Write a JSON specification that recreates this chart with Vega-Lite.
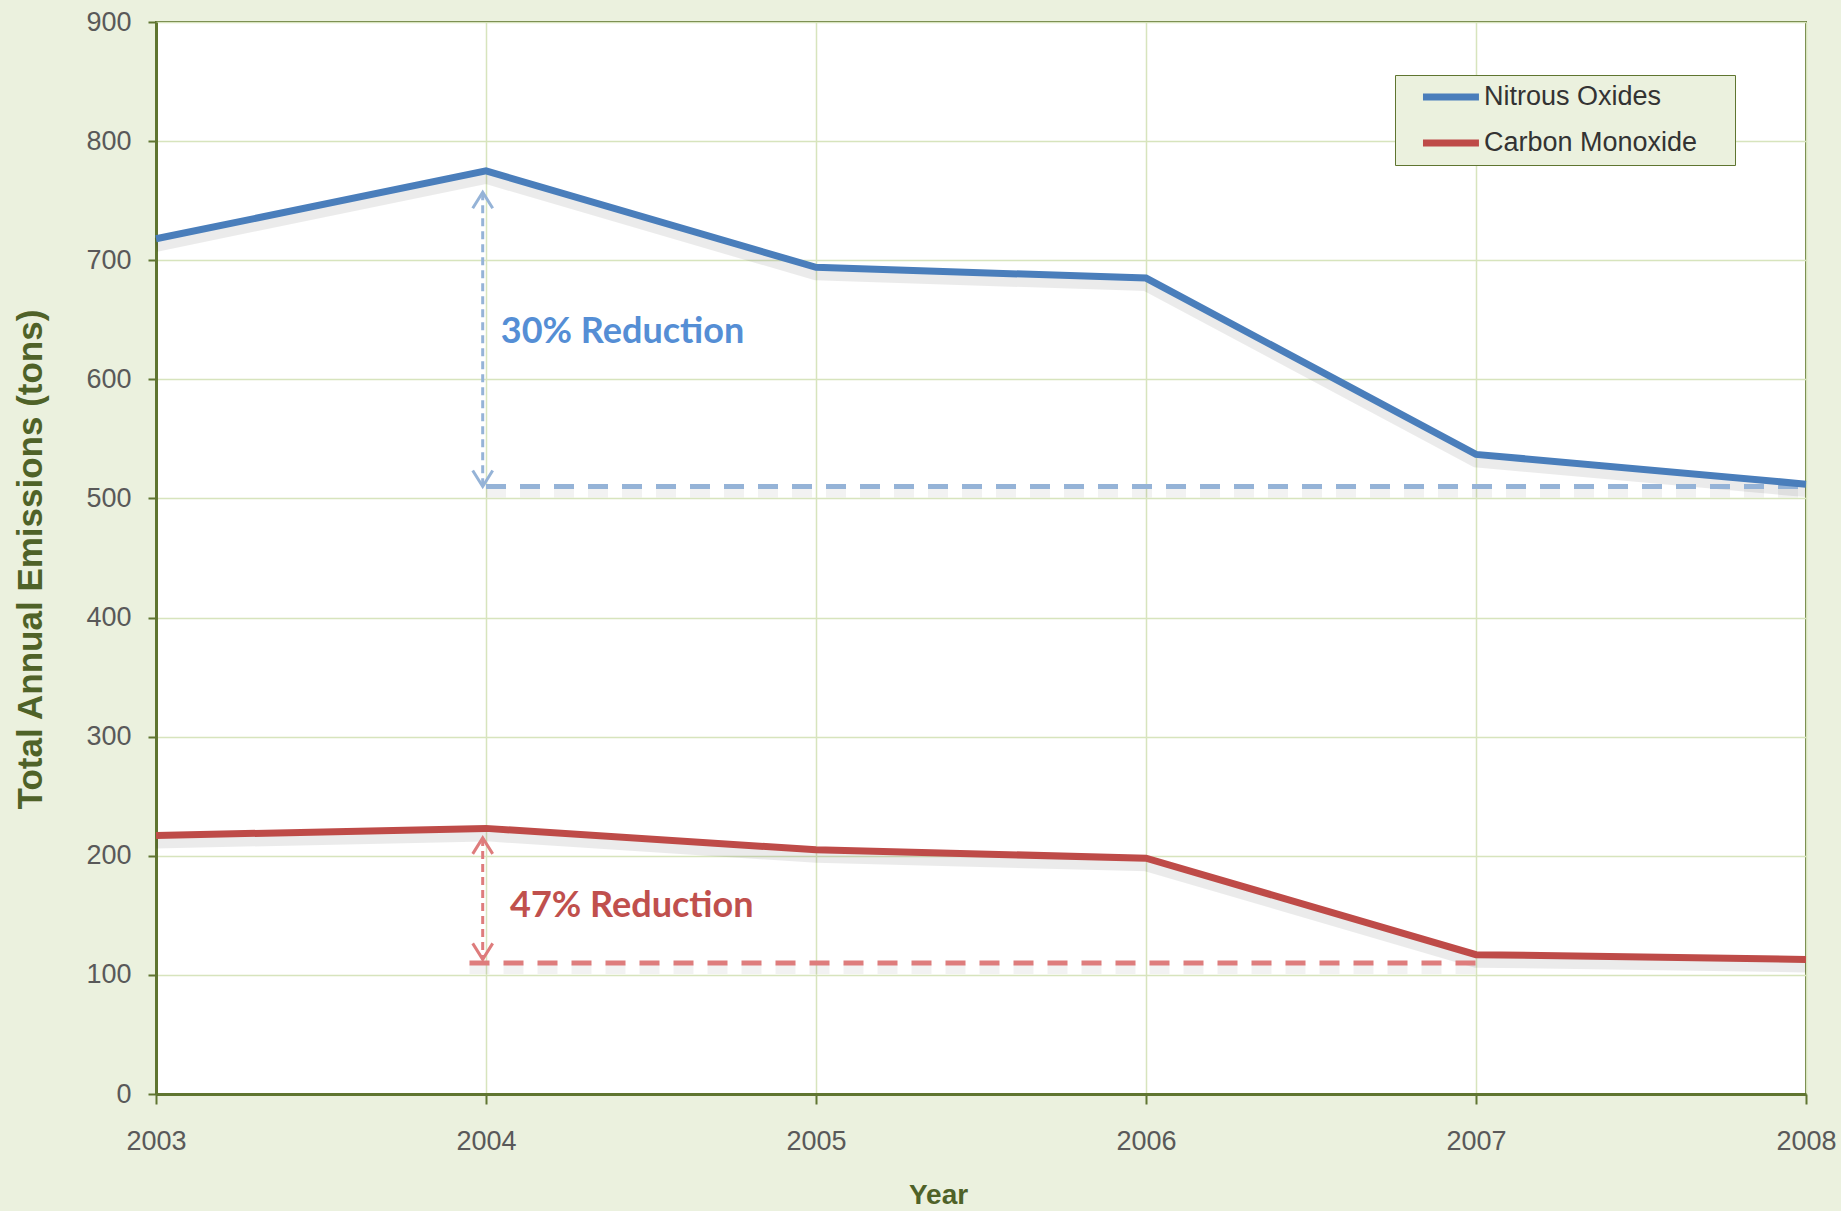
{
  "$schema": "https://vega.github.io/schema/vega-lite/v6.json",
  "autosize": {"type": "none"},
  "width": 1650,
  "height": 1072,
  "padding": {"left": 156, "top": 22, "right": 35, "bottom": 117},
  "background": "#EBF1DE",
  "config": {
    "view": {"stroke": "#5F7530", "strokeWidth": 2, "fill": "#FFFFFF"},
    "axis": {
      "labelFont": "Liberation Sans",
      "labelFontSize": 27,
      "labelColor": "#595959",
      "labelFlush": false,
      "titleFont": "Liberation Sans",
      "titleFontWeight": "bold",
      "titleColor": "#4F6228",
      "domainColor": "#5F7530",
      "domainWidth": 3,
      "tickColor": "#5F7530",
      "tickWidth": 2,
      "gridColor": "#D7E4BD",
      "gridWidth": 1.5
    }
  },
  "datasets": {
    "series": [
      {"Year": 2003, "Series": "Nitrous Oxides", "Emissions": 718},
      {"Year": 2004, "Series": "Nitrous Oxides", "Emissions": 775},
      {"Year": 2005, "Series": "Nitrous Oxides", "Emissions": 694},
      {"Year": 2006, "Series": "Nitrous Oxides", "Emissions": 685},
      {"Year": 2007, "Series": "Nitrous Oxides", "Emissions": 537},
      {"Year": 2008, "Series": "Nitrous Oxides", "Emissions": 512},
      {"Year": 2003, "Series": "Carbon Monoxide", "Emissions": 217},
      {"Year": 2004, "Series": "Carbon Monoxide", "Emissions": 223},
      {"Year": 2005, "Series": "Carbon Monoxide", "Emissions": 205},
      {"Year": 2006, "Series": "Carbon Monoxide", "Emissions": 198},
      {"Year": 2007, "Series": "Carbon Monoxide", "Emissions": 117},
      {"Year": 2008, "Series": "Carbon Monoxide", "Emissions": 113}
    ],
    "refs": [
      {"Key": "NOx", "x1": 2004, "x2": 2008, "y": 510},
      {"Key": "CO", "x1": 2003.95, "x2": 2007, "y": 110}
    ],
    "shafts": [
      {"Key": "NOx", "x": 2003.99, "y1": 757, "y2": 510},
      {"Key": "CO", "x": 2003.99, "y1": 215, "y2": 113}
    ],
    "heads": [
      {"Key": "NOx", "x": 2003.99, "y": 757, "dir": "up"},
      {"Key": "NOx", "x": 2003.99, "y": 510, "dir": "down"},
      {"Key": "CO", "x": 2003.99, "y": 215, "dir": "up"},
      {"Key": "CO", "x": 2003.99, "y": 113, "dir": "down"}
    ],
    "labels": [
      {"Key": "NOx", "x": 2004.045, "y": 640, "text": "30% Reduction"},
      {"Key": "CO", "x": 2004.073, "y": 158, "text": "47% Reduction"}
    ]
  },
  "encoding": {
    "x": {
      "type": "quantitative",
      "scale": {"domain": [2003, 2008], "nice": false, "zero": false},
      "axis": {
        "title": "Year",
        "values": [2003, 2004, 2005, 2006, 2007, 2008],
        "format": "d",
        "tickSize": 10,
        "labelPadding": 24,
        "titleFontSize": 28,
        "titleX": 782,
        "titleY": 87,
        "titleBaseline": "top",
        "titleAlign": "center"
      }
    },
    "y": {
      "type": "quantitative",
      "scale": {"domain": [0, 900], "nice": false},
      "axis": {
        "title": "Total Annual Emissions (tons)",
        "values": [0, 100, 200, 300, 400, 500, 600, 700, 800, 900],
        "tickSize": 8,
        "labelPadding": 17,
        "titleFontSize": 35,
        "titleAngle": -90,
        "titleX": -126,
        "titleY": 537,
        "titleAlign": "center",
        "titleBaseline": "middle"
      }
    }
  },
  "layer": [
    {
      "data": {"name": "series"},
      "mark": {"type": "line", "color": "#000000", "opacity": 0.08, "strokeWidth": 14, "yOffset": 6},
      "encoding": {
        "x": {"field": "Year"},
        "y": {"field": "Emissions"},
        "detail": {"field": "Series"}
      }
    },
    {
      "data": {"name": "refs"},
      "mark": {"type": "rule", "strokeWidth": 10, "color": "#000000", "opacity": 0.05, "strokeDash": [20, 14], "yOffset": 6},
      "encoding": {
        "x": {"field": "x1"},
        "x2": {"field": "x2"},
        "y": {"field": "y"}
      }
    },
    {
      "data": {"name": "refs"},
      "mark": {"type": "rule", "strokeWidth": 5, "strokeDash": [20, 14]},
      "encoding": {
        "x": {"field": "x1"},
        "x2": {"field": "x2"},
        "y": {"field": "y"},
        "stroke": {
          "field": "Key",
          "type": "nominal",
          "scale": {"domain": ["NOx", "CO"], "range": ["#95B3D7", "#DE7C7C"]},
          "legend": null
        }
      }
    },
    {
      "data": {"name": "shafts"},
      "mark": {"type": "rule", "strokeWidth": 3, "strokeDash": [8, 5]},
      "encoding": {
        "x": {"field": "x"},
        "y": {"field": "y1"},
        "y2": {"field": "y2"},
        "stroke": {"field": "Key", "type": "nominal", "legend": null}
      }
    },
    {
      "data": {"name": "heads"},
      "mark": {"type": "point", "filled": false, "strokeWidth": 3, "opacity": 1, "size": 400},
      "encoding": {
        "x": {"field": "x"},
        "y": {"field": "y"},
        "stroke": {"field": "Key", "type": "nominal", "legend": null},
        "shape": {
          "field": "dir",
          "type": "nominal",
          "scale": {"domain": ["up", "down"], "range": ["M-1,1.6L0,0L1,1.6", "M-1,-1.6L0,0L1,-1.6"]},
          "legend": null
        }
      }
    },
    {
      "data": {"name": "series"},
      "mark": {"type": "line", "strokeWidth": 7, "strokeJoin": "miter"},
      "encoding": {
        "x": {"field": "Year"},
        "y": {"field": "Emissions"},
        "color": {
          "field": "Series",
          "type": "nominal",
          "scale": {"domain": ["Nitrous Oxides", "Carbon Monoxide"], "range": ["#4A7EBB", "#BE4B48"]},
          "legend": {
            "title": null,
            "orient": "none",
            "legendX": 1239,
            "legendY": 53,
            "fillColor": "#EBF1DE",
            "strokeColor": "#5F7530",
            "padding": 8,
            "symbolType": "M0.57,0L5.9,0M28.1,0",
            "symbolSize": 441,
            "symbolStrokeWidth": 7,
            "labelFont": "Liberation Sans",
            "labelFontSize": 27,
            "labelColor": "#333333",
            "labelOffset": 53,
            "labelLimit": 500,
            "rowPadding": 18
          }
        }
      }
    },
    {
      "data": {"name": "labels"},
      "mark": {"type": "text", "align": "left", "baseline": "middle", "font": "Lato", "fontWeight": "bold", "fontSize": 36},
      "encoding": {
        "x": {"field": "x"},
        "y": {"field": "y"},
        "text": {"field": "text"},
        "fill": {
          "field": "Key",
          "type": "nominal",
          "scale": {"domain": ["NOx", "CO"], "range": ["#558ED5", "#C0504D"]},
          "legend": null
        }
      }
    }
  ]
}
